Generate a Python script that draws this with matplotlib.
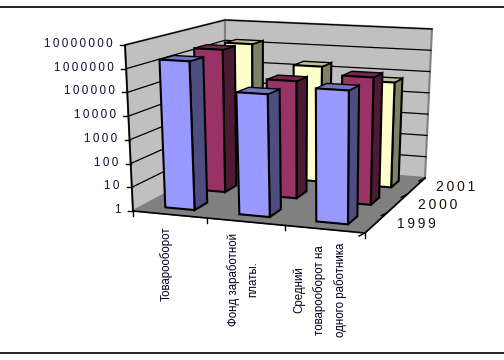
import numpy as np
import matplotlib
matplotlib.use("Agg")
import matplotlib.pyplot as plt
from matplotlib.patches import Polygon

categories = ["Товарооборот", "Фонд заработной\nплаты.", "Средний\nтоварооборот на\nодного работника"]
series_names = ["1999", "2000", "2001"]
values_1999 = [2000000, 130000, 300000]
values_2000 = [2300000, 140000, 320000]
values_2001 = [1600000, 210000, 60000]
z_ticks = [1, 10, 100, 1000, 10000, 100000, 1000000, 10000000]

front_colors = ["#9999FF", "#993366", "#FFFFCC"]
side_colors = ["#4D4D80", "#4D1A33", "#808066"]
top_colors = ["#7373BF", "#73264D", "#BFBF99"]

plt.rcParams["font.family"] = ["Liberation Sans", "DejaVu Sans"]
fig = plt.figure(figsize=(5.04, 3.6), dpi=100)
ax = fig.add_axes([0, 0, 1, 1])
ax.set_xlim(0, 504)
ax.set_ylim(360, 0)
ax.axis("off")

def homography(q):
    src = [(0, 0), (3, 0), (3, 3), (0, 3)]
    A, b = [], []
    for (u, v), (x, y) in zip(src, q):
        A.append([u, v, 1, 0, 0, 0, -u * x, -v * x]); b.append(x)
        A.append([0, 0, 0, u, v, 1, -u * y, -v * y]); b.append(y)
    return np.append(np.linalg.solve(np.array(A, float), np.array(b, float)), 1).reshape(3, 3)

H_bottom = homography([(133, 211), (365, 233), (425, 178), (225, 162)])
H_top = homography([(125, 45), (367, 58), (432, 29), (225, 20)])

def apply(H, u, v):
    p = H @ np.array([u, v, 1.0])
    return p[:2] / p[2]

def proj(u, v, value=1):
    t = np.log10(value) / 7
    return tuple((1 - t) * apply(H_bottom, u, v) + t * apply(H_top, u, v))

def poly(pts, fc, ec="black", lw=1.5, z=2):
    ax.add_patch(Polygon(pts, closed=True, fc=fc, ec=ec, lw=lw, joinstyle="miter", zorder=z))

# walls and floor
vmax = z_ticks[-1]
poly([proj(0, 0), proj(0, 0, vmax), proj(0, 3, vmax), proj(0, 3)], "#C0C0C0", "#808080", 1.5, 1)
poly([proj(0, 3), proj(0, 3, vmax), proj(3, 3, vmax), proj(3, 3)], "#C0C0C0", "#808080", 1.5, 1)
poly([proj(0, 0), proj(3, 0), proj(3, 3), proj(0, 3)], "#808080", "#808080", 1, 1)

# gridlines and value axis
for val in z_ticks:
    pts = [proj(0, 0, val), proj(0, 3, val), proj(3, 3, val)]
    if val > 1:
        ax.plot(*zip(*pts), color="black", lw=0.9, zorder=1.5)
    p = proj(0, 0, val)
    ax.plot([p[0] - 5, p[0]], [p[1], p[1]], color="black", lw=1, zorder=1.6)
    ax.text(p[0] - 12, p[1] - 1, "\u2009".join(str(val)), ha="right", va="center",
            fontsize=8.4, color="#1a0a40", zorder=5)
ax.plot(*zip(proj(0, 0), proj(0, 0, vmax)), color="black", lw=1.2, zorder=1.6)
ax.plot(*zip(proj(0, 0), proj(3, 0)), color="black", lw=1.2, zorder=1.6)
ax.plot(*zip(proj(3, 0), proj(3, 3)), color="black", lw=1.2, zorder=1.6)

# category ticks and labels
label_x = [166, 243, 320]
label_y = [264, 279, 290]
for i in range(4):
    p = proj(i, 0)
    ax.plot([p[0], p[0]], [p[1], p[1] + 5], color="black", lw=1, zorder=1.6)
for name, lx, ly in zip(categories, label_x, label_y):
    ax.text(lx, ly, name, rotation=90, ha="center", va="center", multialignment="center",
            fontsize=8.3, linespacing=1.75, color="#000020", zorder=5)

# depth ticks and labels
for j in range(4):
    p = proj(3, j)
    ax.plot([p[0], p[0] - 6], [p[1], p[1] + 3], color="black", lw=1, zorder=1.6)
for j, name in enumerate(series_names):
    p = proj(3, j + 0.5)
    ax.text(p[0] + 20, p[1] + 1.5, "\u2009".join(name), ha="left", va="center",
            fontsize=10, color="#201000", zorder=5)

# bars
rows = [values_1999, values_2000, values_2001]
bw = 0.4
z = 3
for j in [2, 1, 0]:
    for i in range(3):
        val = rows[j][i]
        u0, u1 = i + 0.5 - bw / 2, i + 0.5 + bw / 2
        v0, v1 = j + 0.5 - bw / 2, j + 0.5 + bw / 2
        poly([proj(u1, v0), proj(u1, v1), proj(u1, v1, val), proj(u1, v0, val)], side_colors[j], z=z)
        poly([proj(u0, v0, val), proj(u1, v0, val), proj(u1, v1, val), proj(u0, v1, val)], top_colors[j], lw=1, z=z)
        poly([proj(u0, v0), proj(u1, v0), proj(u1, v0, val), proj(u0, v0, val)], front_colors[j], z=z)
        z += 0.1

# frame rules
ax.plot([0, 504], [7, 7], color="black", lw=1.2, zorder=6)
ax.plot([0, 504], [353, 353], color="black", lw=1.2, zorder=6)

fig.savefig("out.png", dpi=100)
